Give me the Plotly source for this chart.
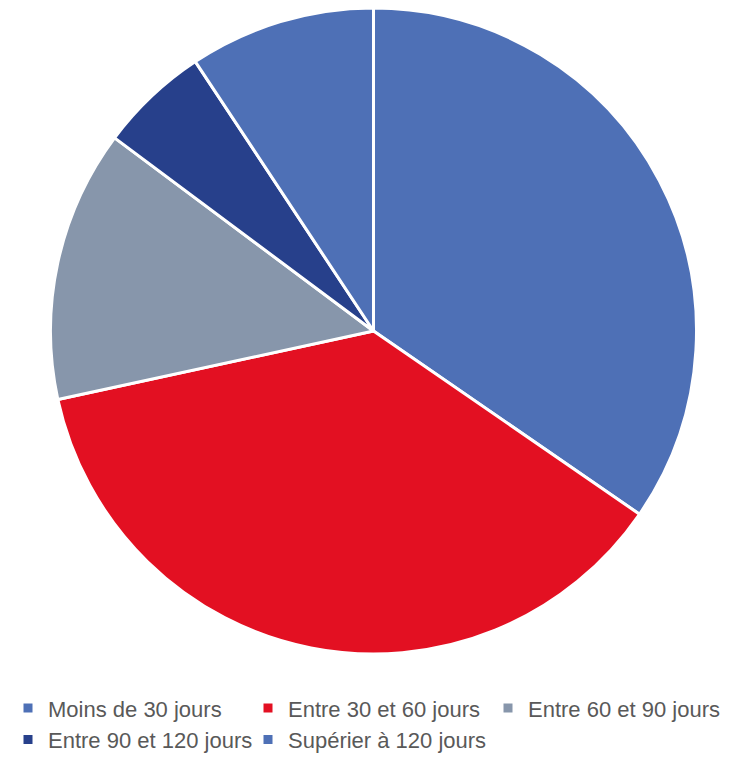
import plotly.graph_objects as go

categories = ["Moins de 30 jours", "Entre 30 et 60 jours", "Entre 60 et 90 jours",
              "Entre 90 et 120 jours", "Supérier à 120 jours"]
values = [34.6, 37.0, 13.6, 5.5, 9.3]
colors = ["#4E70B6", "#E31022", "#8796AB", "#27408B", "#4E70B6"]

fig = go.Figure(go.Pie(
    labels=categories,
    values=values,
    sort=False,
    direction="clockwise",
    rotation=0,
    textinfo="none",
    hoverinfo="label+percent",
    domain=dict(x=[0.05707, 0.93614], y=[0.0, 1.0]),
    marker=dict(colors=colors, line=dict(color="white", width=3)),
))

fig.update_layout(
    width=736, height=764,
    margin=dict(l=0, r=0, t=0, b=118),
    paper_bgcolor="white",
    plot_bgcolor="white",
    showlegend=True,
    legend=dict(
        orientation="h",
        xref="container", yref="container",
        x=0.0, xanchor="left",
        y=0.111, yanchor="top",
        font=dict(family="Liberation Sans, Arial, sans-serif", size=22, color="#595959"),
        entrywidth=195,
        entrywidthmode="pixels",
        itemwidth=30,
        traceorder="normal",
    ),
)

fig.write_html("out.html")
